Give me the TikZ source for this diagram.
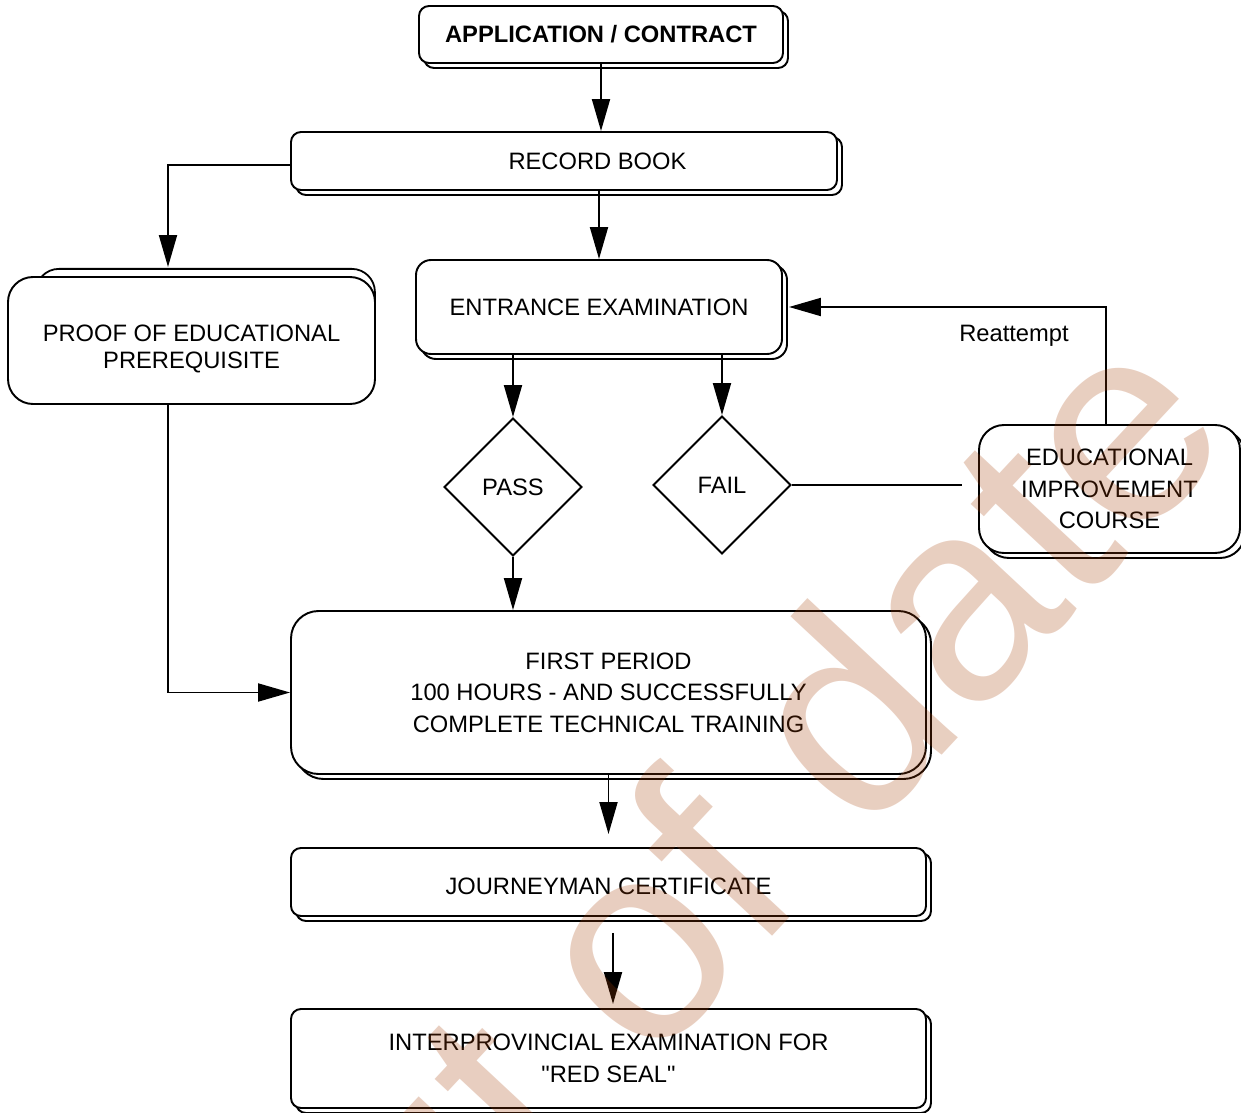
\documentclass[tikz,border=0pt]{standalone}
\usepackage{fontspec}
\setmainfont{Liberation Sans}
\usetikzlibrary{arrows.meta,shapes.geometric,shadows}
\definecolor{wm}{RGB}{165,62,5}
\newcommand\dq{\XeTeXglyph\XeTeXcharglyph"22\relax}

\begin{document}
\begin{tikzpicture}[font=\fontsize{13.5}{18}\selectfont, line width=1.1pt,
  >={Triangle[length=0.64cm,width=0.36cm]},
  box/.style={draw, fill=white, align=center, inner sep=0pt, rounded corners=0.2cm},
  shd/.style={copy shadow={shadow xshift=0.1cm, shadow yshift=-0.1cm, fill=white, draw=black}},
  dec/.style={draw, diamond, inner sep=0pt, minimum width=2.76cm, minimum height=2.76cm}]
\useasboundingbox (0,0) rectangle (24.82,-22.26);
\clip (0,0) rectangle (24.82,-22.26);
\node[box, shd, font=\fontsize{13.5}{18}\selectfont\bfseries, minimum width=7.28cm, minimum height=1.14cm] (app) at (12.02,-0.69) {APPLICATION / CONTRACT};
\node[box, shd, minimum width=10.92cm, minimum height=1.16cm] (rec) at (11.28,-3.22) {\hspace*{1.34cm}RECORD BOOK};
\node[box, rounded corners=0.5cm, minimum width=7.34cm, minimum height=2.54cm,
  copy shadow={shadow scale=0.924, shadow xshift=0.3cm, shadow yshift=0.28cm, fill=white, draw=black}] (proof) at (3.83,-6.81)
  {\raisebox{-0.16cm}[\height][\depth]{\begin{tabular}{@{}c@{}}PROOF OF EDUCATIONAL\\[-2.6pt]PREREQUISITE\end{tabular}}};
\node[box, shd, rounded corners=0.3cm, minimum width=7.32cm, minimum height=1.88cm] (ent) at (11.98,-6.14) {ENTRANCE EXAMINATION};
\node[dec] (pass) at (10.26,-9.74) {PASS};
\node[dec] (fail) at (14.44,-9.70) {FAIL};
\node[box, shd, rounded corners=0.5cm, minimum width=5.22cm, minimum height=2.56cm] (edu) at (22.19,-9.78) {EDUCATIONAL\\IMPROVEMENT\\COURSE};
\node[box, shd, rounded corners=0.55cm, minimum width=12.70cm, minimum height=3.26cm] (first) at (12.17,-13.85) {FIRST PERIOD\\100 HOURS - AND SUCCESSFULLY\\COMPLETE TECHNICAL TRAINING};
\node[box, shd, minimum width=12.70cm, minimum height=1.36cm] (jour) at (12.17,-17.64) {\raisebox{-0.08cm}[\height][\depth]{JOURNEYMAN CERTIFICATE}};
\node[box, shd, minimum width=12.70cm, minimum height=1.98cm] (inter) at (12.17,-21.17) {INTERPROVINCIAL EXAMINATION FOR\\\dq RED SEAL\dq};
\node (reatt) at (20.28,-6.72) {Reattempt};
\coordinate (failend) at (19.24,-9.70);
% connectors
\draw[->] (app) -- (app |- rec.north);
\draw[->] (ent |- rec.south) -- (ent);
\draw[->] ([yshift=-0.08cm]rec.west) -| ([xshift=-0.47cm,yshift=0.18cm]proof.north);
\draw[->] (pass |- ent.south) -- (pass);
\draw[->] (fail |- ent.south) -- (fail);
\draw[->] (pass) -- (pass |- first.north);
\draw (fail) -- (failend);
\draw[->, shorten >=0.12cm] ([xshift=-0.07cm]edu.north) |- (ent.east);
\draw[->] ([xshift=-0.47cm]proof.south) |- (first.west);
\draw[->, shorten >=0.26cm] (first) -- (jour);
\draw[->, shorten <=0.32cm, shorten >=0.08cm] ([xshift=0.09cm]jour.south) -- ([xshift=0.09cm]inter.north);
% stamp over everything
\node[rotate=47, anchor=base, inner sep=0pt, text=wm, text opacity=0.25, font=\fontsize{161}{161}\selectfont] (stamp) at (15.66,-18.52) {out of date};
\end{tikzpicture}
\end{document}
